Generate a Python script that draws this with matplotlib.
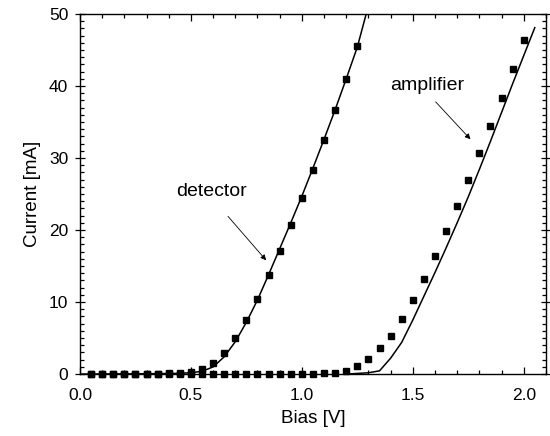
import numpy as np
import matplotlib
matplotlib.use("Agg")
import matplotlib.pyplot as plt
from matplotlib.ticker import MultipleLocator, FormatStrFormatter

plt.rcParams['font.family'] = ['Liberation Sans', 'DejaVu Sans']

# measured points (squares)
det_bias = [0.05, 0.10, 0.15, 0.20, 0.25, 0.30, 0.35, 0.40, 0.45, 0.50,
            0.55, 0.60, 0.65, 0.70, 0.75, 0.80, 0.85, 0.90, 0.95, 1.00,
            1.05, 1.10, 1.15, 1.20, 1.25]
det_current = [0.05, 0.05, 0.05, 0.05, 0.05, 0.05, 0.08, 0.12, 0.18, 0.28,
               0.65, 1.5, 2.9, 5.0, 7.5, 10.4, 13.7, 17.1, 20.7, 24.5,
               28.4, 32.5, 36.7, 41.0, 45.5]

amp_bias = [0.05, 0.10, 0.15, 0.20, 0.25, 0.30, 0.35, 0.40, 0.45, 0.50,
            0.55, 0.60, 0.65, 0.70, 0.75, 0.80, 0.85, 0.90, 0.95, 1.00,
            1.05, 1.10, 1.15, 1.20, 1.25, 1.30, 1.35, 1.40, 1.45, 1.50,
            1.55, 1.60, 1.65, 1.70, 1.75, 1.80, 1.85, 1.90, 1.95, 2.00]
amp_current = [0.05, 0.05, 0.05, 0.05, 0.05, 0.05, 0.05, 0.05, 0.05, 0.05,
               0.05, 0.05, 0.05, 0.05, 0.05, 0.05, 0.05, 0.05, 0.05, 0.05,
               0.08, 0.1, 0.2, 0.46, 1.1, 2.15, 3.6, 5.35, 7.7, 10.3,
               13.25, 16.4, 19.8, 23.3, 27.0, 30.7, 34.5, 38.4, 42.4, 46.4]

# model curves (solid lines)
det_fit_bias = [0.0, 0.3, 0.45, 0.5, 0.55, 0.6, 0.65, 0.7, 0.75, 0.8,
                0.85, 0.9, 0.95, 1.0, 1.05, 1.1, 1.15, 1.2, 1.25, 1.29]
det_fit_current = [0.0, 0.05, 0.1, 0.2, 0.38, 1.0, 2.4, 4.5, 7.2, 10.3,
                   13.8, 17.4, 21.0, 24.7, 28.6, 32.6, 36.7, 41.0, 45.4, 50.0]

amp_fit_bias = [1.2, 1.3, 1.35, 1.4, 1.45, 1.5, 1.55, 1.6, 1.65, 1.7,
                1.75, 1.8, 1.85, 1.9, 1.95, 2.0, 2.05]
amp_fit_current = [0.0, 0.18, 0.45, 2.2, 4.4, 7.5, 10.8, 14.1, 17.5, 21.0,
                   24.6, 28.4, 32.3, 36.3, 40.3, 44.2, 48.1]

fig = plt.figure(figsize=(5.5, 4.36), dpi=100)
ax = fig.add_axes([0.1455, 0.142, 0.847, 0.826])

ax.plot(det_fit_bias, det_fit_current, color='black', lw=1.1)
ax.plot(amp_fit_bias, amp_fit_current, color='black', lw=1.1)
ax.plot(det_bias, det_current, 's', color='black', ms=4.9, clip_on=False, zorder=3)
ax.plot(amp_bias, amp_current, 's', color='black', ms=4.9, clip_on=False, zorder=3)

ax.set_xlim(0, 2.1)
ax.set_ylim(0, 50)
ax.xaxis.set_major_locator(MultipleLocator(0.5))
ax.xaxis.set_minor_locator(MultipleLocator(0.1))
ax.yaxis.set_major_locator(MultipleLocator(10))
ax.yaxis.set_minor_locator(MultipleLocator(1))
ax.xaxis.set_major_formatter(FormatStrFormatter('%.1f'))

ax.tick_params(which='both', direction='in', top=True, right=True, labelsize=12.5, width=0.9)
ax.tick_params(which='major', length=5)
ax.tick_params(which='minor', length=3)
ax.tick_params(axis='y', which='major', direction='inout', length=7, pad=5)
ax.tick_params(axis='x', pad=10)
for s in ax.spines.values():
    s.set_linewidth(1.0)

ax.set_xlabel('Bias [V]', fontsize=13.5, labelpad=5)
ax.set_ylabel('Current [mA]', fontsize=13.5, labelpad=6)

ax.text(0.593, 25.3, 'detector', fontsize=14, ha='center', va='center')
ax.annotate('', xy=(0.839, 15.8), xytext=(0.667, 21.9),
            arrowprops=dict(arrowstyle='-|>', color='black', lw=0.6,
                            mutation_scale=8, shrinkA=0, shrinkB=0))
ax.text(1.566, 40.0, 'amplifier', fontsize=14, ha='center', va='center')
ax.annotate('', xy=(1.760, 32.6), xytext=(1.603, 37.8),
            arrowprops=dict(arrowstyle='-|>', color='black', lw=0.6,
                            mutation_scale=8, shrinkA=0, shrinkB=0))

fig.savefig('out.png', dpi=100)
